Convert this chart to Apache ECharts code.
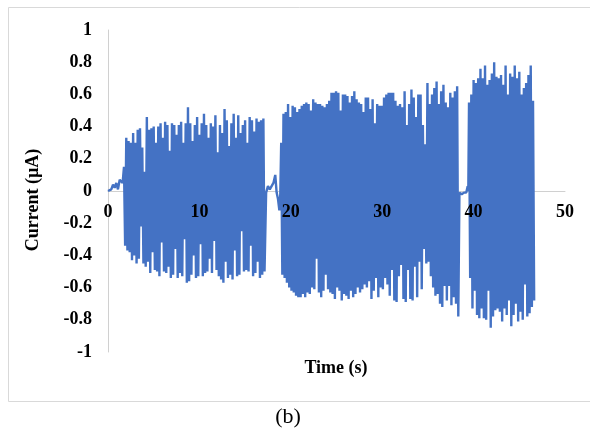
<!DOCTYPE html>
<html>
<head>
<meta charset="utf-8">
<script src="https://cdn.jsdelivr.net/npm/echarts@6/dist/echarts.min.js"></script>
<style>
  html, body { margin: 0; padding: 0; background: #ffffff; }
  #chart { width: 590px; height: 432px; }
</style>
</head>
<body>
<div id="chart"></div>
<script>
// Current recorded over time (µA vs s). Oscillation bursts are stored as
// per-cycle peak (high) and trough (low) readings on a fixed cycle period;
// quiet stretches between bursts are stored as [time, current] pairs.

const xTicks = [0, 10, 20, 30, 40, 50];
const yTicks = [-1, -0.8, -0.6, -0.4, -0.2, 0, 0.2, 0.4, 0.6, 0.8, 1];

const cyclePeriod = 0.25; // s per oscillation cycle

const leadIn = [[0, 0], [0.2, 0.005], [0.36, 0.01], [0.55, 0.04], [0.73, 0.02],
  [0.91, 0.05], [1.09, 0.01], [1.28, 0.07], [1.46, 0.08], [1.6, 0.05]];

const burst1Start = 1.75;
const burst1High = [0.15, 0.33, 0.31, 0.30, 0.36, 0.30, 0.38, 0.39, 0.27, 0.12,
  0.46, 0.38, 0.39, 0.40, 0.30, 0.40, 0.42, 0.33, 0.43, 0.41,
  0.25, 0.42, 0.41, 0.35, 0.41, 0.43, 0.30, 0.42, 0.52, 0.42,
  0.31, 0.41, 0.46, 0.35, 0.42, 0.48, 0.41, 0.33, 0.42, 0.40,
  0.47, 0.24, 0.41, 0.36, 0.51, 0.44, 0.28, 0.42, 0.48, 0.33,
  0.47, 0.36, 0.41, 0.44, 0.30, 0.46, 0.44, 0.37, 0.45, 0.43,
  0.44, 0.45];
const burst1Low = [-0.34, -0.37, -0.38, -0.43, -0.40, -0.45, -0.42, -0.22, -0.45, -0.47,
  -0.44, -0.51, -0.38, -0.49, -0.50, -0.53, -0.32, -0.50, -0.51, -0.47,
  -0.54, -0.52, -0.36, -0.54, -0.51, -0.53, -0.30, -0.57, -0.56, -0.52,
  -0.40, -0.54, -0.53, -0.33, -0.53, -0.51, -0.50, -0.42, -0.51, -0.31,
  -0.49, -0.53, -0.55, -0.57, -0.44, -0.54, -0.52, -0.55, -0.37, -0.53,
  -0.52, -0.25, -0.50, -0.49, -0.50, -0.34, -0.53, -0.51, -0.44, -0.54,
  -0.52, -0.50];

const pause1 = [[17.3, -0.01], [17.5, 0.03], [17.7, 0.01], [17.9, 0.02], [18.1, 0.05],
  [18.3, 0.10], [18.45, -0.01], [18.6, -0.05], [18.75, -0.12], [18.85, -0.02]];

const burst2Start = 18.95;
const burst2High = [0.30, 0.48, 0.49, 0.54, 0.46, 0.53, 0.52, 0.49, 0.51, 0.53,
  0.54, 0.55, 0.54, 0.50, 0.57, 0.55, 0.54, 0.54, 0.53, 0.52,
  0.54, 0.56, 0.61, 0.61, 0.62, 0.61, 0.50, 0.60, 0.60, 0.59,
  0.55, 0.59, 0.62, 0.57, 0.55, 0.54, 0.49, 0.58, 0.58, 0.51,
  0.57, 0.42, 0.54, 0.53, 0.53, 0.58, 0.60, 0.61, 0.61, 0.61,
  0.56, 0.53, 0.54, 0.52, 0.62, 0.41, 0.54, 0.63, 0.58, 0.46,
  0.60, 0.60, 0.41, 0.29, 0.67, 0.54, 0.60, 0.64, 0.68, 0.54,
  0.62, 0.66, 0.55, 0.52, 0.61, 0.58, 0.62, 0.65];
const burst2Low = [-0.52, -0.54, -0.57, -0.60, -0.62, -0.63, -0.65, -0.66, -0.66, -0.64,
  -0.66, -0.63, -0.64, -0.60, -0.61, -0.42, -0.63, -0.66, -0.62, -0.52,
  -0.61, -0.63, -0.64, -0.67, -0.60, -0.62, -0.68, -0.64, -0.65, -0.67,
  -0.62, -0.66, -0.64, -0.60, -0.63, -0.61, -0.58, -0.60, -0.56, -0.67,
  -0.62, -0.54, -0.66, -0.60, -0.61, -0.54, -0.58, -0.65, -0.49, -0.68,
  -0.69, -0.53, -0.46, -0.67, -0.69, -0.49, -0.67, -0.68, -0.47, -0.66,
  -0.44, -0.61, -0.36, -0.45, -0.44, -0.53, -0.60, -0.65, -0.64, -0.70,
  -0.72, -0.59, -0.68, -0.59, -0.71, -0.66, -0.70, -0.78];

const pause2 = [[38.45, -0.01], [38.7, -0.02], [38.95, -0.01], [39.2, -0.01],
  [39.35, 0.03], [39.42, 0.0]];

const burst3Start = 39.5;
const burst3High = [0.55, 0.60, 0.69, 0.67, 0.70, 0.76, 0.70, 0.78, 0.66, 0.69,
  0.73, 0.80, 0.71, 0.70, 0.72, 0.66, 0.78, 0.60, 0.73, 0.71,
  0.78, 0.70, 0.74, 0.60, 0.64, 0.67, 0.72, 0.78, 0.56];
const burst3Low = [-0.54, -0.73, -0.62, -0.77, -0.79, -0.73, -0.79, -0.80, -0.62, -0.85,
  -0.78, -0.74, -0.73, -0.75, -0.81, -0.73, -0.77, -0.68, -0.84, -0.77,
  -0.70, -0.81, -0.75, -0.80, -0.58, -0.78, -0.76, -0.72, -0.68];

// Expand a burst into [time, current] samples: peak at the cycle start,
// trough half a period later.
function burstSamples(start, highs, lows) {
  const out = [];
  for (let i = 0; i < highs.length; i++) {
    const t = start + i * cyclePeriod;
    out.push([t, highs[i]]);
    out.push([t + cyclePeriod / 2, lows[i]]);
  }
  return out;
}

const trace = [].concat(
  leadIn,
  burstSamples(burst1Start, burst1High, burst1Low),
  pause1,
  burstSamples(burst2Start, burst2High, burst2Low),
  pause2,
  burstSamples(burst3Start, burst3High, burst3Low)
);

const serif = '"Liberation Serif", "DejaVu Serif", serif';
const gridTop = 30, gridHeight = 322;
// distance from the plot bottom up to the zero line, so the time axis sits at 0 µA
const zeroLift = gridHeight * (0 - yTicks[0]) / (yTicks[yTicks.length - 1] - yTicks[0]);

const timeScale = {
  type: 'value',
  position: 'bottom',
  offset: -zeroLift,
  min: xTicks[0],
  max: xTicks[xTicks.length - 1],
  interval: xTicks[1] - xTicks[0],
  axisTick: { show: false },
  splitLine: { show: false }
};

const chart = echarts.init(document.getElementById('chart'), null, { renderer: 'canvas' });

chart.setOption({
  animation: false,
  backgroundColor: '#ffffff',
  grid: { left: 108, top: gridTop, width: 457, height: gridHeight, containLabel: false },
  xAxis: [
    // axis line, kept beneath the trace
    Object.assign({}, timeScale, {
      z: 0,
      axisLine: { show: true, onZero: false, lineStyle: { color: '#d0d0d0', width: 1 } },
      axisLabel: { show: false }
    }),
    // tick labels, printed over the trace
    Object.assign({}, timeScale, {
      z: 10,
      axisLine: { show: false, onZero: false },
      axisLabel: { color: '#000', fontFamily: serif, fontWeight: 'bold', fontSize: 18, margin: 12 }
    })
  ],
  yAxis: {
    type: 'value',
    min: yTicks[0],
    max: yTicks[yTicks.length - 1],
    interval: 0.2,
    axisLine: { show: true, lineStyle: { color: '#d0d0d0', width: 1 } },
    axisTick: { show: false },
    splitLine: { show: false },
    axisLabel: { color: '#000', fontFamily: serif, fontWeight: 'bold', fontSize: 18, margin: 16 }
  },
  series: [{
    type: 'line',
    xAxisIndex: 0,
    data: trace,
    showSymbol: false,
    sampling: null,
    z: 2,
    lineStyle: { color: '#4472C4', width: 2.4, join: 'bevel' },
    itemStyle: { color: '#4472C4' }
  }],
  graphic: [
    {
      type: 'rect',
      shape: { x: 8.5, y: 7.5, width: 600, height: 394 },
      style: { fill: 'none', stroke: '#d9d9d9', lineWidth: 1 },
      silent: true,
      z: -1
    },
    {
      type: 'text',
      x: 336, y: 368,
      style: { text: 'Time (s)', font: 'bold 18px ' + serif, fill: '#000', textAlign: 'center', textVerticalAlign: 'middle' }
    },
    {
      type: 'text',
      x: 33, y: 200,
      rotation: Math.PI / 2,
      style: { text: 'Current (µA)', font: 'bold 18px ' + serif, fill: '#000', textAlign: 'center', textVerticalAlign: 'middle' }
    },
    {
      type: 'text',
      x: 288, y: 417,
      style: { text: '(b)', font: '22px ' + serif, fill: '#000', textAlign: 'center', textVerticalAlign: 'middle' }
    }
  ]
});
</script>
</body>
</html>
